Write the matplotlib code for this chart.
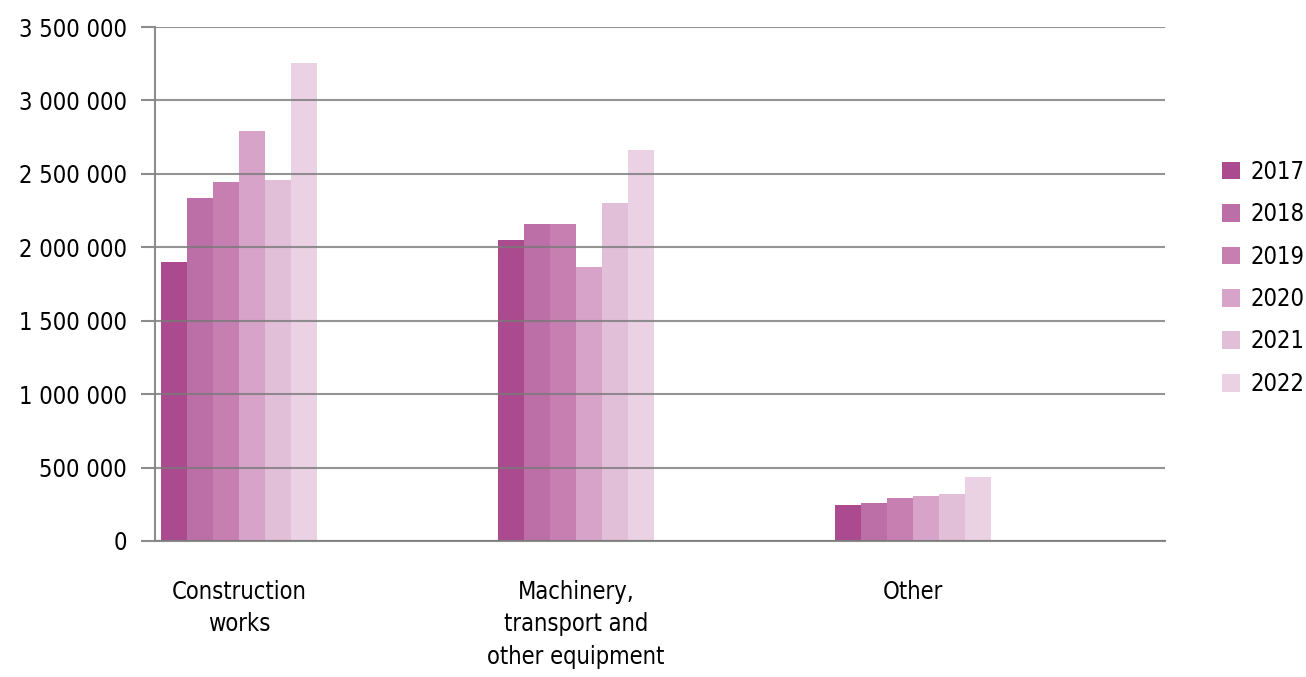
import numpy as np
import matplotlib.pyplot as plt
from matplotlib.ticker import FuncFormatter

plt.rcParams['font.family'] = ['DejaVu Sans']
plt.rcParams['font.stretch'] = 'condensed'

categories = ["Construction\nworks", "Machinery,\ntransport and\nother equipment", "Other"]
years = ["2017", "2018", "2019", "2020", "2021", "2022"]
values = {
    "2017": [1899000, 2049000, 245000],
    "2018": [2335000, 2158000, 259000],
    "2019": [2444000, 2158000, 293000],
    "2020": [2791000, 1865000, 306000],
    "2021": [2457000, 2300000, 320000],
    "2022": [3254000, 2661000, 436000],
}
colors = ["#AB4A8E", "#BC6EA6", "#C77FB2", "#D7A3C8", "#E2BFD8", "#EAD1E3"]

fig = plt.figure(figsize=(13.06, 6.77), dpi=100)
ax = fig.add_axes([0.1187, 0.2009, 0.7733, 0.7591])

x = np.arange(len(categories))
w = 0.0772
for i, yr in enumerate(years):
    ax.bar(x + (i - 2.5) * w, values[yr], w, color=colors[i], label=yr, zorder=1)

ax.set_xlim(-0.249, 2.748)
ax.set_ylim(0, 3500000)
ax.set_yticks(np.arange(0, 3500001, 500000))
ax.yaxis.set_major_formatter(FuncFormatter(lambda v, p: f"{int(v):,}".replace(",", " ")))
ax.grid(axis='y', color='#7a7a7a', linewidth=1.5, alpha=0.8, zorder=3)
ax.set_axisbelow(False)

for s in ['top', 'right']:
    ax.spines[s].set_visible(False)
for s in ['left', 'bottom']:
    ax.spines[s].set_color('#8c8c8c')
    ax.spines[s].set_linewidth(1.5)
ax.tick_params(axis='y', length=10, width=1.5, color='#8c8c8c', labelsize=17, pad=10)
ax.tick_params(axis='x', length=0, labelsize=17, pad=28)
ax.set_xticks(x)
ax.set_xticklabels(categories, va='top', linespacing=1.45)

ax.legend(loc='center left', bbox_to_anchor=(1.056, 0.512), frameon=False, fontsize=17,
          handlelength=0.78, handleheight=0.78, labelspacing=0.78, handletextpad=0.45,
          borderpad=0, borderaxespad=0)

fig.savefig("out.png", dpi=100)
